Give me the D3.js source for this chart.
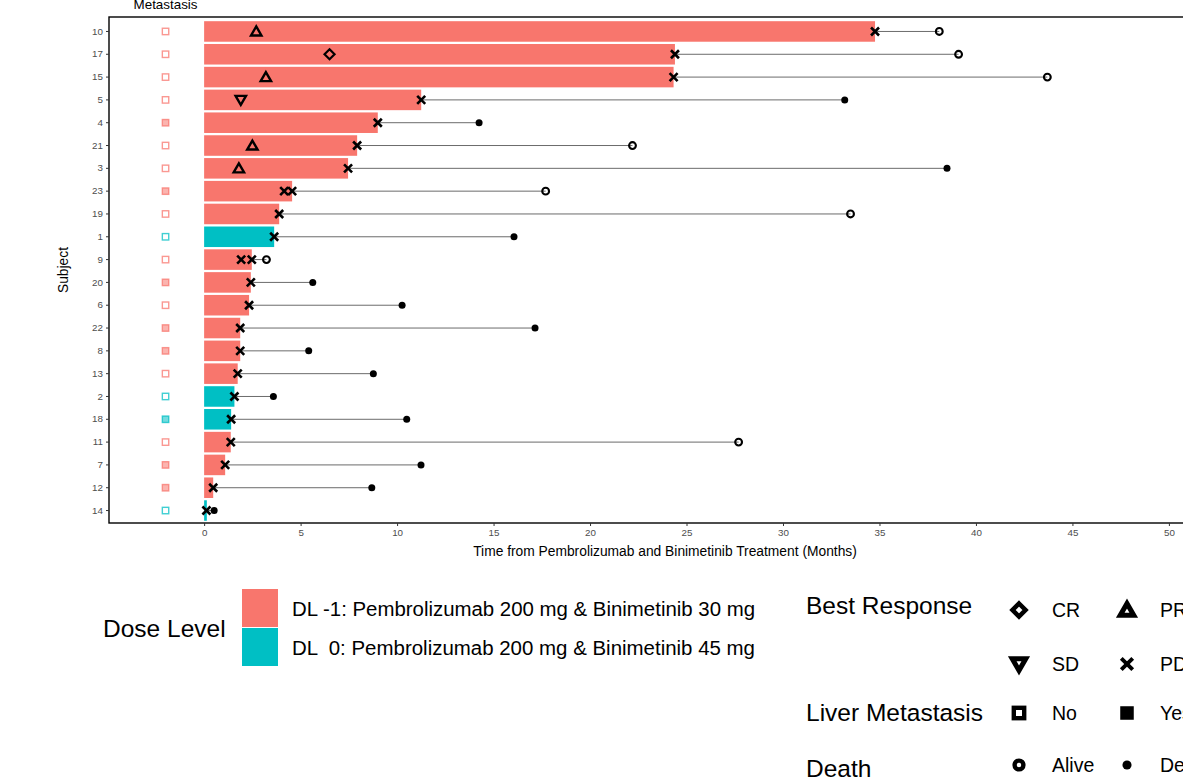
<!DOCTYPE html>
<html><head><meta charset="utf-8">
<script src="https://cdn.jsdelivr.net/npm/d3@7"></script>
<style>body{margin:0;background:#fff;} svg{display:block;font-family:"Liberation Sans",Arial,Helvetica,sans-serif;} text{white-space:pre;}</style>
</head><body><svg id="c" width="1183" height="783"></svg>
<script>
// ---- data ----
const subjects = ["10","17","15","5","4","21","3","23","19","1","9","20","6","22","8","13","2","18","11","7","12","14"];
const doseLevel = ["-1","-1","-1","-1","-1","-1","-1","-1","-1","0","-1","-1","-1","-1","-1","-1","0","0","-1","-1","-1","0"];
const treatmentMonths = [34.77,24.4,24.33,11.25,9.0,7.93,7.46,4.56,3.89,3.63,2.47,2.42,2.33,1.87,1.87,1.74,1.57,1.4,1.38,1.09,0.47,0.14];
const followUpMonths = [38.1,39.1,43.7,33.2,14.25,22.2,38.5,17.7,33.5,16.06,3.23,5.63,10.26,17.15,5.42,8.77,3.59,10.5,27.7,11.24,8.69,0.52];
const deathStatus = ["Alive","Alive","Alive","Dead","Dead","Alive","Dead","Alive","Alive","Dead","Alive","Dead","Dead","Dead","Dead","Dead","Dead","Dead","Alive","Dead","Dead","Dead"];
const liverMet = ["No","No","No","No","Yes","No","No","Yes","No","No","No","Yes","No","Yes","Yes","No","No","Yes","No","Yes","Yes","No"];
const respSubject = ["10","10","17","17","15","15","5","5","4","21","21","3","3","23","23","19","1","9","9","20","6","22","8","13","2","18","11","7","12","14"];
const respTime =    [2.7,34.77,6.5,24.4,3.2,24.33,1.9,11.25,9.0,2.5,7.93,1.8,7.46,4.15,4.56,3.89,3.63,1.92,2.47,2.42,2.33,1.87,1.87,1.74,1.57,1.4,1.38,1.09,0.47,0.12];
const respType =    ["PR","PD","CR","PD","PR","PD","SD","PD","PD","PR","PD","PR","PD","PD","PD","PD","PD","PD","PD","PD","PD","PD","PD","PD","PD","PD","PD","PD","PD","PD"];
const xTicks = [0,5,10,15,20,25,30,35,40,45,50];
const doseLabels = {"-1":"DL -1: Pembrolizumab 200 mg & Binimetinib 30 mg","0":"DL  0: Pembrolizumab 200 mg & Binimetinib 45 mg"};
const doseColors = {"-1":"#F8766D","0":"#00BFC4"};
const liverX = -2;

// ---- layout ----
const svg = d3.select("#c");
const P = {l:109, r:1221, t:17, b:523};
const x = d3.scaleLinear().domain([-4.93, 52.7]).range([P.l, P.r]);
const y = d3.scaleBand().domain(subjects).range([P.t + 1, P.b + 1]).paddingInner(0.1).paddingOuter(0.14);
const yc = s => y(s) + y.bandwidth()/2;

const g = svg.append("g");
// bars
g.selectAll("rect.bar").data(subjects).join("rect")
  .attr("x", x(0)).attr("y", s=>y(s))
  .attr("width", (s,i)=>x(treatmentMonths[i])-x(0))
  .attr("height", y.bandwidth())
  .attr("fill", (s,i)=>doseColors[doseLevel[i]]);

// follow-up segments
g.selectAll("line.fu").data(subjects).join("line")
  .attr("x1",(s,i)=>x(treatmentMonths[i])).attr("x2",(s,i)=>x(followUpMonths[i]))
  .attr("y1",s=>yc(s)).attr("y2",s=>yc(s))
  .attr("stroke","#6b6b6b").attr("stroke-width",1);

// liver metastasis markers
g.selectAll("rect.liver").data(subjects).join("rect")
  .attr("x", x(liverX)-3.2).attr("y", s=>yc(s)-3.2)
  .attr("width",6.4).attr("height",6.4)
  .attr("fill",(s,i)=>liverMet[i]==="Yes"?doseColors[doseLevel[i]]:"none")
  .attr("fill-opacity",0.55)
  .attr("stroke",(s,i)=>doseColors[doseLevel[i]])
  .attr("stroke-opacity",0.75)
  .attr("stroke-width",1.4);

// symbol drawing helper
function drawSym(sel, type, cx, cy, s, legend) {
  const k = s/10;
  const sw = legend ? 1.6 : 1;
  if (type==="PR") {
    sel.append("path").attr("d",`M${cx},${cy-5*k} L${cx+5.2*k},${cy+4*k} L${cx-5.2*k},${cy+4*k} Z`)
      .attr("fill","none").attr("stroke","#000").attr("stroke-width",2.4*k*sw).attr("stroke-linejoin","miter");
  } else if (type==="SD") {
    sel.append("path").attr("d",`M${cx},${cy+5*k} L${cx+5.2*k},${cy-4*k} L${cx-5.2*k},${cy-4*k} Z`)
      .attr("fill","none").attr("stroke","#000").attr("stroke-width",2.4*k*sw);
  } else if (type==="CR") {
    sel.append("path").attr("d",`M${cx},${cy-5*k} L${cx+5*k},${cy} L${cx},${cy+5*k} L${cx-5*k},${cy} Z`)
      .attr("fill","none").attr("stroke","#000").attr("stroke-width",2.2*k*sw);
  } else if (type==="PD") {
    const h = legend ? 4.4 : 4;
    sel.append("path").attr("d",`M${cx-h*k},${cy-h*k} L${cx+h*k},${cy+h*k} M${cx+h*k},${cy-h*k} L${cx-h*k},${cy+h*k}`)
      .attr("stroke","#000").attr("stroke-width",2.6*k*(legend?1.15:1));
  } else if (type==="Alive") {
    sel.append("circle").attr("cx",cx).attr("cy",cy).attr("r",3.4*k)
      .attr("fill","none").attr("stroke","#000").attr("stroke-width",2.1*k*sw);
  } else if (type==="Dead") {
    sel.append("circle").attr("cx",cx).attr("cy",cy).attr("r",3.5*k).attr("fill","#000");
  } else if (type==="No") {
    sel.append("rect").attr("x",cx-4*k).attr("y",cy-4*k).attr("width",8*k).attr("height",8*k)
      .attr("fill","none").attr("stroke","#000").attr("stroke-width",2.6*k*1.3);
  } else if (type==="Yes") {
    sel.append("rect").attr("x",cx-5.2*k).attr("y",cy-5.2*k).attr("width",10.4*k).attr("height",10.4*k)
      .attr("fill","#000");
  }
}

// death/alive endpoints
subjects.forEach((s,i)=>drawSym(g, deathStatus[i], x(followUpMonths[i]), yc(s), 10, false));
// response markers
respSubject.forEach((s,i)=>drawSym(g, respType[i], x(respTime[i]), yc(s), 10, false));

// panel border
svg.append("rect").attr("x",P.l).attr("y",P.t).attr("width",P.r-P.l).attr("height",P.b-P.t)
  .attr("fill","none").attr("stroke","#000").attr("stroke-width",1.4);

// axes
const xAxis = svg.append("g").attr("transform",`translate(0,${P.b})`)
  .call(d3.axisBottom(x).tickValues(xTicks).tickSize(3).tickPadding(3));
const yAxis = svg.append("g").attr("transform",`translate(${P.l},0)`)
  .call(d3.axisLeft(y).tickSize(3).tickPadding(3));
[xAxis,yAxis].forEach(a=>{
  a.select(".domain").remove();
  a.selectAll(".tick line").attr("stroke","#333");
  a.selectAll(".tick text").attr("fill","#4d4d4d").style("font-size","9.8px").style("font-family","Liberation Sans, Arial, sans-serif");
});

// titles
svg.append("text").attr("x",(P.l+P.r)/2).attr("y",556).attr("text-anchor","middle")
  .style("font-size","13.8px").text("Time from Pembrolizumab and Binimetinib Treatment (Months)");
svg.append("text").attr("transform",`translate(68,${(P.t+P.b)/2}) rotate(-90)`).attr("text-anchor","middle")
  .style("font-size","13.8px").text("Subject");
svg.append("text").attr("x",x(liverX)).attr("y",9).attr("text-anchor","middle")
  .style("font-size","13.4px").text("Metastasis");

// ---- legends ----
const lg = svg.append("g");
lg.append("text").attr("x",103).attr("y",637).style("font-size","24.5px").text("Dose Level");
["-1","0"].forEach((d,i)=>{
  lg.append("rect").attr("x",242).attr("y",589+i*39).attr("width",36).attr("height",38).attr("fill",doseColors[d]);
  lg.append("text").attr("x",292).attr("y",616+i*39).style("font-size","20px")
    .attr("textLength",463).attr("lengthAdjust","spacingAndGlyphs").text(doseLabels[d]);
});

const legRows = [
  {title:"Best Response", y:610, ty:614, items:[["CR","CR"],["PR","PR"]]},
  {title:null, y:664, ty:668, items:[["SD","SD"],["PD","PD"]]},
  {title:"Liver Metastasis", y:713, ty:721, items:[["No","No"],["Yes","Yes"]]},
  {title:"Death", y:765, ty:777, items:[["Alive","Alive"],["Dead","Dead"]]}
];
legRows.forEach(r=>{
  if (r.title) lg.append("text").attr("x",806).attr("y",r.ty).style("font-size","24.5px").text(r.title);
  r.items.forEach((it,j)=>{
    const cx = 1019 + j*108;
    drawSym(lg, it[0], cx, r.y, 13, true);
    lg.append("text").attr("x",cx+33).attr("y",r.y+7).style("font-size","19.5px").text(it[1]);
  });
});
</script></body></html>
